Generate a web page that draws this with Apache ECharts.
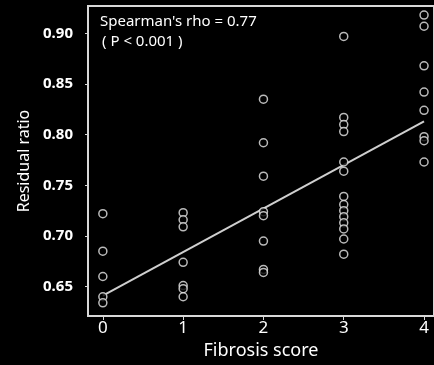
<!DOCTYPE html>
<html>
<head>
<meta charset="utf-8">
<script src="https://cdn.jsdelivr.net/npm/echarts@6/dist/echarts.min.js"></script>
<style>
  html, body { margin: 0; padding: 0; background: #000; }
  #main { width: 434px; height: 365px; }
</style>
</head>
<body>
<div id="main"></div>
<script>
var myChart = echarts.init(document.getElementById('main'));

// residual ratio read per fibrosis score
var score0 = [0.722, 0.685, 0.660, 0.640, 0.634];
var score1 = [0.723, 0.716, 0.709, 0.674, 0.651, 0.648, 0.640];
var score2 = [0.835, 0.792, 0.759, 0.724, 0.720, 0.695, 0.667, 0.664];
var score3 = [0.897, 0.817, 0.810, 0.803, 0.773, 0.764, 0.739, 0.731, 0.725, 0.719, 0.713, 0.707, 0.697, 0.682];
var score4 = [0.918, 0.907, 0.868, 0.842, 0.824, 0.798, 0.794, 0.773];
var fitLine = [[0, 0.641], [4, 0.813]];
var xTicks = [0, 1, 2, 3, 4];
var yTicks = [0.65, 0.70, 0.75, 0.80, 0.85, 0.90];

var points = [];
[score0, score1, score2, score3, score4].forEach(function (vals, s) {
  vals.forEach(function (v) { points.push([xTicks[s], v]); });
});

var font = 'Noto Sans';

var option = {
  backgroundColor: '#000',
  animation: false,
  grid: {
    left: 88, top: 6, right: -2, bottom: 45,
    show: true, borderColor: '#d8d8d8', borderWidth: 2, backgroundColor: '#000'
  },
  xAxis: {
    type: 'value', min: -0.185, max: 4.124,
    name: 'Fibrosis score', nameLocation: 'middle', nameGap: 26,
    nameTextStyle: { color: '#fff', fontSize: 18, fontFamily: font },
    axisLine: { show: true, onZero: false, lineStyle: { color: '#d8d8d8', width: 2 } },
    axisTick: { show: true, length: 4, lineStyle: { color: '#d8d8d8' }, customValues: xTicks },
    splitLine: { show: false },
    axisLabel: {
      color: '#fff', fontSize: 17, fontFamily: font, margin: 4,
      customValues: xTicks
    }
  },
  yAxis: {
    type: 'value', min: 0.621, max: 0.927,
    name: 'Residual ratio', nameLocation: 'middle', nameGap: 55,
    nameTextStyle: { color: '#fff', fontSize: 16, fontFamily: font },
    axisLine: { show: true, onZero: false, lineStyle: { color: '#d8d8d8', width: 2 } },
    axisTick: { show: true, length: 3, lineStyle: { color: '#d8d8d8' }, customValues: yTicks },
    splitLine: { show: false },
    axisLabel: {
      color: '#fff', fontSize: 15, fontWeight: 'bold', fontFamily: font, margin: 15,
      customValues: yTicks,
      formatter: function (v) { return v.toFixed(2); }
    }
  },
  graphic: [
    { type: 'text', left: 100, top: 14, style: { text: "Spearman's rho = 0.77", fill: '#fff', fontSize: 15, fontFamily: font } },
    { type: 'text', left: 102, top: 34, style: { text: '( P < 0.001 )', fill: '#fff', fontSize: 15, fontFamily: font } }
  ],
  series: [
    {
      type: 'line', data: fitLine, symbol: 'none', z: 3,
      lineStyle: { color: '#cfcfcf', width: 2 }
    },
    {
      type: 'scatter', data: points, symbol: 'circle', symbolSize: 8, z: 4,
      itemStyle: { color: '#000', borderColor: '#e8e8e8', borderWidth: 1.5 }
    }
  ]
};
myChart.setOption(option);
</script>
</body>
</html>
